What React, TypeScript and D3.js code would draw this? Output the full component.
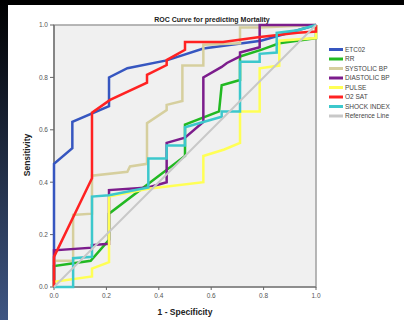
import React from "react";
import * as d3 from "d3";

// ROC points, [1 - specificity, sensitivity]
const etco2 = [[0,0],[0,0.47],[0.07,0.53],[0.07,0.63],[0.21,0.69],[0.21,0.8],[0.28,0.835],[0.43,0.865],[0.57,0.91],[0.79,0.94],[0.86,0.96],[0.93,0.98],[1,1]];
const rr = [[0,0],[0,0.08],[0.14,0.1],[0.21,0.18],[0.21,0.28],[0.5,0.5],[0.5,0.62],[0.63,0.67],[0.64,0.77],[0.71,0.79],[0.71,0.88],[0.79,0.905],[0.86,0.93],[1,0.95],[1,1]];
const systolic = [[0,0],[0,0.1],[0.073,0.1],[0.073,0.275],[0.145,0.28],[0.145,0.425],[0.28,0.44],[0.29,0.46],[0.355,0.47],[0.355,0.625],[0.43,0.675],[0.43,0.695],[0.49,0.71],[0.49,0.845],[0.57,0.845],[0.57,0.925],[0.71,0.93],[0.71,0.99],[0.785,0.99],[1,1]];
const diastolic = [[0,0],[0,0.14],[0.145,0.15],[0.145,0.16],[0.21,0.165],[0.21,0.37],[0.36,0.38],[0.43,0.4],[0.43,0.55],[0.5,0.57],[0.57,0.63],[0.57,0.8],[0.64,0.84],[0.66,0.855],[0.71,0.88],[0.71,0.895],[0.785,0.915],[0.785,1],[1,1]];
const pulse = [[0,0],[0,0.02],[0.145,0.04],[0.145,0.07],[0.21,0.095],[0.21,0.345],[0.36,0.375],[0.57,0.4],[0.57,0.5],[0.65,0.525],[0.71,0.55],[0.71,0.67],[0.785,0.67],[0.785,0.835],[0.86,0.845],[0.86,0.94],[1,0.95],[1,1]];
const o2sat = [[0,0],[0,0.115],[0.145,0.415],[0.145,0.665],[0.214,0.714],[0.355,0.78],[0.355,0.81],[0.43,0.847],[0.43,0.866],[0.5,0.905],[0.5,0.935],[0.645,0.935],[0.786,0.954],[0.93,0.97],[1,0.975],[1,1]];
const shock = [[0,0],[0.073,0],[0.073,0.11],[0.145,0.115],[0.145,0.345],[0.21,0.35],[0.36,0.38],[0.36,0.49],[0.43,0.49],[0.43,0.54],[0.5,0.54],[0.5,0.61],[0.57,0.63],[0.64,0.65],[0.64,0.67],[0.71,0.67],[0.71,0.86],[0.785,0.86],[0.785,0.89],[0.85,0.895],[0.85,0.97],[0.93,0.98],[1,1]];
const reference = [[0,0],[1,1]];

const seriesNames = ["ETC02","RR","SYSTOLIC BP","DIASTOLIC BP","PULSE","O2 SAT","SHOCK INDEX","Reference Line"];
const seriesData = [etco2, rr, systolic, diastolic, pulse, o2sat, shock, reference];
const colors = ["#3656c0","#22b922","#d6cf9e","#7c1d8c","#ffff55","#ff2222","#3cc8cc","#c8c8c8"];
const ticks = [0, 0.2, 0.4, 0.6, 0.8, 1.0];

const font = "'Liberation Sans', Arial, sans-serif";

const App = () => {
  const x = d3.scaleLinear().domain([0, 1]).range([54, 316]);
  const y = d3.scaleLinear().domain([0, 1]).range([287, 25]);
  const line = d3.line<number[]>().x(d => x(d[0])).y(d => y(d[1]));

  return (
    <svg width={404} height={320} style={{ position: "absolute", left: 0, top: 0 }}>
      <defs>
        <linearGradient id="side" x1="0" y1="0" x2="0" y2="1">
          <stop offset="0" stopColor="#000000" />
          <stop offset="1" stopColor="#3f5683" />
        </linearGradient>
      </defs>
      <rect width={404} height={320} fill="#000" />
      <rect x={0} y={0} width={8} height={320} fill="url(#side)" />
      <rect x={8} y={5} width={396} height={315} fill="#fff" />

      <text x={212} y={22} textAnchor="middle" fontFamily={font} fontWeight="bold" fontSize={7} fill="#222">
        ROC Curve for predicting Mortality
      </text>

      <rect x={x(0)} y={y(1)} width={x(1) - x(0)} height={y(0) - y(1)} fill="#f0f0f0" stroke="#a0a0a0" strokeWidth={1.5} />
      <line x1={x(0)} x2={x(0)} y1={y(1)} y2={y(0)} stroke="#666" strokeWidth={1.2} />
      <line x1={x(0)} x2={x(1)} y1={y(0)} y2={y(0)} stroke="#666" strokeWidth={1.2} />

      {ticks.map(t => (
        <g key={"x" + t}>
          <line x1={x(t)} x2={x(t)} y1={y(0)} y2={y(0) + 3} stroke="#666" />
          <text x={x(t)} y={y(0) + 11} textAnchor="middle" fontFamily={font} fontSize={6.5} fill="#555">{t.toFixed(1)}</text>
        </g>
      ))}
      {ticks.map(t => (
        <g key={"y" + t}>
          <line x1={x(0) - 4} x2={x(0)} y1={y(t)} y2={y(t)} stroke="#666" />
          <text x={x(0) - 6} y={y(t) + 2.3} textAnchor="end" fontFamily={font} fontSize={6.5} fill="#555">{t.toFixed(1)}</text>
        </g>
      ))}

      <text x={185} y={315} textAnchor="middle" fontFamily={font} fontWeight="bold" fontSize={8.5} fill="#222">1 - Specificity</text>
      <text transform="translate(30,155) rotate(-90)" textAnchor="middle" fontFamily={font} fontWeight="bold" fontSize={8.5} fill="#222">Sensitivity</text>

      <g fill="none" strokeWidth={2.5} strokeLinejoin="miter">
        {seriesData.map((d, i) => (
          <path key={seriesNames[i]} d={line(d) || ""} stroke={colors[i]} strokeWidth={i === 7 ? 2 : 2.5} />
        ))}
      </g>

      {seriesNames.map((n, i) => (
        <g key={"lg" + n} transform={`translate(329,${49.5 + i * 9.5})`}>
          <line x1={0} x2={14} y1={0} y2={0} stroke={colors[i]} strokeWidth={3} />
          <text x={16} y={2.3} fontFamily={font} fontSize={6.5} fill="#444">{n}</text>
        </g>
      ))}
    </svg>
  );
};

export default App;
